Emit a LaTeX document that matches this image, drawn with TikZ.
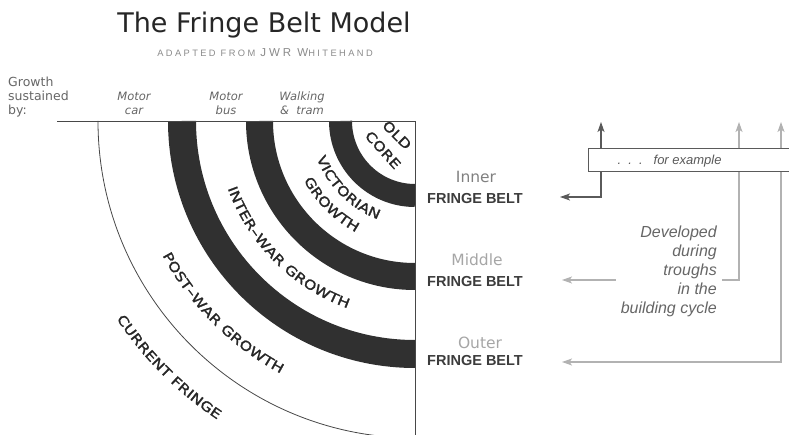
\documentclass[tikz,border=0pt]{standalone}
\usepackage{fontspec}
\setmainfont{DejaVu Sans}
\newfontfamily\arialfont{Liberation Sans}
\newfontfamily\capsfont[LetterSpace=26]{Liberation Sans}
\newfontfamily\arcfont[FakeStretch=1.25, FakeBold=1.6]{DejaVu Sans}
\usetikzlibrary{arrows.meta,decorations.text}

\definecolor{ink}{HTML}{262626}
\definecolor{belt}{HTML}{303030}
\definecolor{midgrey}{HTML}{666666}
\definecolor{innergrey}{HTML}{808080}
\definecolor{palegrey}{HTML}{A6A6A6}
\definecolor{creditgrey}{HTML}{8A8A8A}
\definecolor{arrowdark}{HTML}{5A5A5A}
\definecolor{arrowpale}{HTML}{B2B2B2}

\newcommand\ringfont{\arcfont\fontsize{13}{13}\selectfont}
\newcommand\tallcaps[1]{{\fontsize{11.5}{12}\selectfont#1}}

\begin{document}
\begin{tikzpicture}[x=1pt, y=1pt,
  band/.style={belt, line width=#1},
  edge/.style={ink!85, line width=0.9pt},
  ringlabel/.style={decorate, decoration={text along path, text align=center,
      text color=ink, text={|\ringfont|#1}}},
  ringword/.style={font=\ringfont, text=ink, inner sep=0pt},
  darkarrow/.style={arrowdark, line width=1.1pt, -{Stealth[length=10pt, width=7pt, inset=2.5pt]}},
  palearrow/.style={arrowpale, line width=1.1pt, -{Stealth[length=10pt, width=7pt, inset=2.5pt]}},
  beltname/.style={font=\fontsize{15.5}{18}\selectfont},
  fringe/.style={font=\arialfont\bfseries\fontsize{14.5}{16}\selectfont, text=ink!90},
  mode/.style={font=\itshape\fontsize{11.5}{14}\selectfont, text=midgrey, align=center},
  exbox/.style={draw=arrowdark, line width=1pt, fill=white, minimum width=240pt,
      minimum height=23pt, inner sep=0pt},
  note/.style={font=\arialfont\itshape\fontsize{13}{15}\selectfont, text=arrowdark},
  devnote/.style={font=\arialfont\itshape\fontsize{16}{19}\selectfont, text=midgrey,
      align=right, fill=white, inner xsep=5pt, inner ysep=1pt}
]
\useasboundingbox (0,0) rectangle (789,-435);

\node[font=\fontsize{27}{30}\selectfont, text=ink, anchor=base] (title) at (264,-33) {The Fringe Belt Model};
\node[font=\capsfont\fontsize{9.3}{10}\selectfont, text=creditgrey, anchor=base] (credit) at (265,-57)
  {ADAPTED FROM \tallcaps{JWR W}HITEHAND};

\node[font=\fontsize{12.5}{14}\selectfont, text=midgrey, align=left, anchor=north west, inner sep=2pt]
  (growth) at (6,-75) {Growth\\sustained\\by:};
\node[mode] (car) at (134,-103) {Motor\\car};
\node[mode] (bus) at (226,-103) {Motor\\bus};
\node[mode] (tram) at (302,-103) {Walking\\\&\ \ tram};

\coordinate (C) at (415,-121);
\coordinate (topleft) at (57,-121);
\coordinate (bottom) at (415,-436);

\draw[band=28pt] (C) ++(180:233) arc[start angle=180, end angle=270, radius=233];
\draw[band=27pt] (C) ++(180:155.5) arc[start angle=180, end angle=270, radius=155.5];
\draw[band=23pt] (C) ++(180:74.5) arc[start angle=180, end angle=270, radius=74.5];
\draw[edge, line width=0.8pt] (C) ++(180:317) arc[start angle=180, end angle=270, radius=317];
\draw[edge] (topleft) -- (C) -- (bottom);

\node[ringword, rotate=-45] (old) at (397,-135) {OLD};
\node[ringword, rotate=-48] (core) at (383,-150) {CORE};
\begin{scope}[shift={(C)}]
\path[ringlabel=VICTORIAN] (180:105) arc[start angle=180, end angle=270, radius=105];
\path[ringlabel=GROWTH] (180:126) arc[start angle=180, end angle=270, radius=126];
\path[ringlabel=INTER–WAR GROWTH] (180:199) arc[start angle=180, end angle=270, radius=199];
\path[ringlabel=POST–WAR GROWTH] (180:286) arc[start angle=180, end angle=270, radius=286];
\path[ringlabel=CURRENT FRINGE] (180:358) arc[start angle=180, end angle=270, radius=358];
\end{scope}

\node[beltname, text=innergrey] (inner) at (476,-177) {Inner};
\node[fringe] (fb1) at (475,-199) {FRINGE BELT};
\node[beltname, text=palegrey] (middle) at (477,-260) {Middle};
\node[fringe] (fb2) at (475,-282) {FRINGE BELT};
\node[beltname, text=palegrey] (outer) at (480,-343) {Outer};
\node[fringe] (fb3) at (475,-361) {FRINGE BELT};

\node[exbox, anchor=west] (box) at (588,-160.5) {};
\node[note, anchor=west] (forex) at (614,-161) {.\ \ .\ \ .\ \ \ for example};

\coordinate (up1) at (601,-122);
\coordinate (up2) at (739,-122);
\coordinate (up3) at (781,-122);
\coordinate (tip1) at (560,-197);
\coordinate (tip2) at (562,-280);
\coordinate (tip3) at (562,-362);

\draw[darkarrow] (box.north -| up1) -- (up1);
\draw[palearrow] (box.north -| up2) -- (up2);
\draw[palearrow] (box.north -| up3) -- (up3);
\draw[darkarrow] (box.south -| up1) |- (tip1);
\draw[palearrow] (box.south -| up2) |- (tip2);
\draw[palearrow] (box.south -| up3) |- (tip3);

\node[devnote, anchor=east] (dev) at (722,-271) {Developed\\during\\troughs\\in the\\building cycle};
\end{tikzpicture}
\end{document}
